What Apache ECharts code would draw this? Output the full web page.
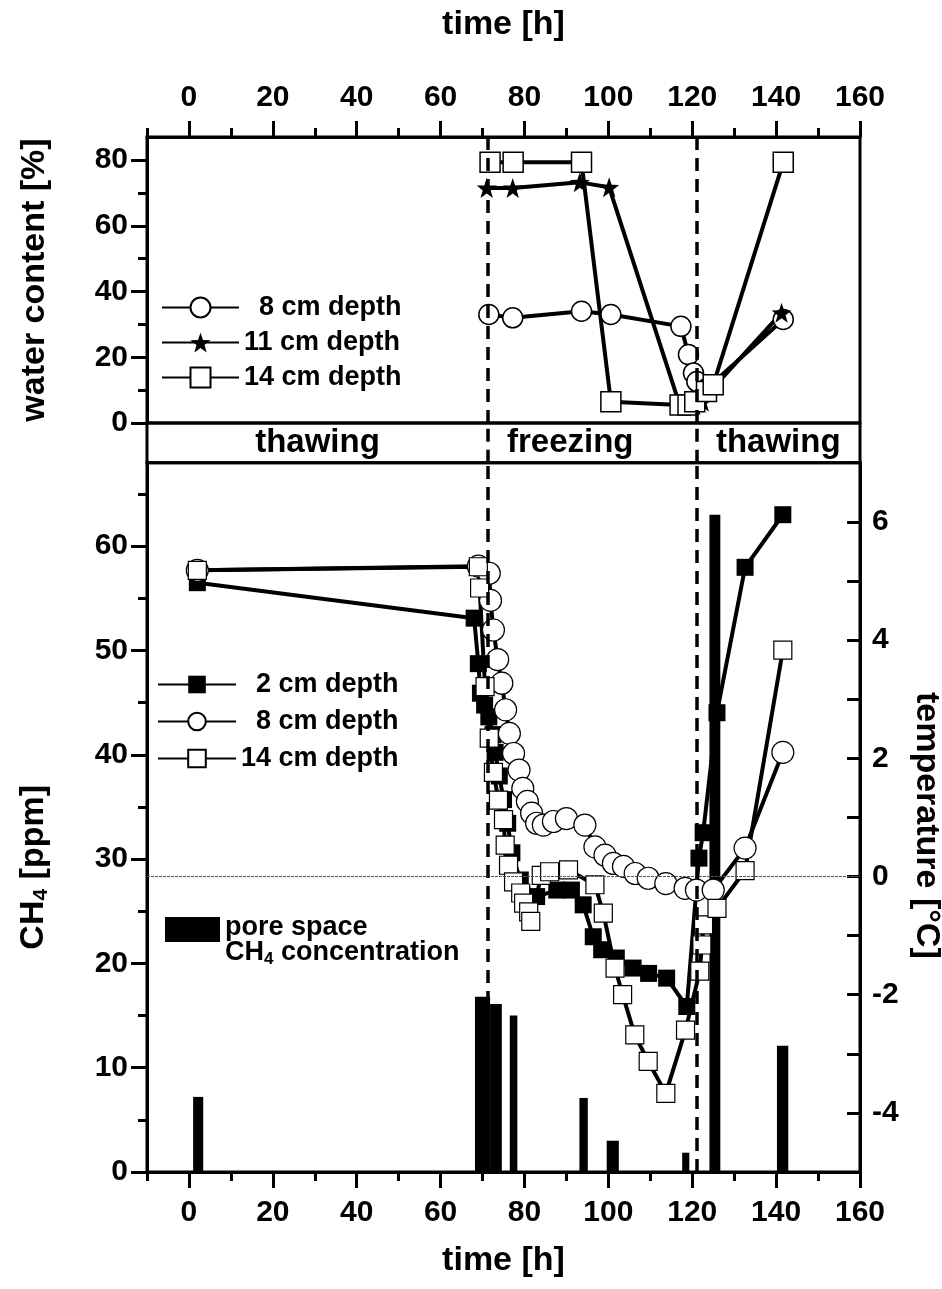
<!DOCTYPE html>
<html><head><meta charset="utf-8">
<script src="https://cdn.jsdelivr.net/npm/echarts@6/dist/echarts.min.js"></script>
<style>html,body{margin:0;padding:0;background:#fff}#c{width:942px;height:1289px}</style>
</head><body><div id="c"></div>
<script>
// ---------- tick labels ----------
const xMajorTicks = [0, 20, 40, 60, 80, 100, 120, 140, 160];
const xMinorTicks = [-10, 10, 30, 50, 70, 90, 110, 130, 150];
const wcMajorTicks = [0, 20, 40, 60, 80];
const wcMinorTicks = [10, 30, 50, 70];
const ch4MajorTicks = [0, 10, 20, 30, 40, 50, 60];
const ch4MinorTicks = [5, 15, 25, 35, 45, 55, 65];
const tempLabelTicks = [-4, -2, 0, 2, 4, 6];

// ---------- phases ----------
const phaseBounds = [-10, 71.3, 121, 160];
const phaseNames = ['thawing', 'freezing', 'thawing'];

// ---------- water content (top panel) ----------
const wcTime8 = [71.5, 77.2, 93.6, 100.6, 117.3, 119.1, 120.3, 121.1, 123.5, 141.7];
const wc8 = [33, 32, 34, 33, 29.4, 20.8, 15.2, 12.6, 10.5, 31.5];
const wcTime11 = [71.0, 77.2, 93.2, 100.2, 117.0, 120.5, 122.5, 124.5, 141.3];
const wc11 = [71.5, 71.5, 73.2, 71.7, 5.5, 5.5, 6.5, 10, 33.5];
const wcTime14 = [71.8, 77.3, 93.6, 100.6, 117.1, 119.0, 120.6, 123.4, 125.0, 141.7];
const wc14 = [79.3, 79.3, 79.3, 6.5, 5.5, 5.5, 6.5, 9.6, 11.6, 79.3];

// ---------- temperature (bottom panel, right axis) ----------
const tTime2 = [2, 68, 69, 69.5, 70.5, 71.5, 72.5, 73, 74, 75, 76, 77, 79, 82.9, 87.7, 91.2, 94, 96.4, 98.4, 101.9, 105.9, 109.6, 113.9, 118.7, 121.6, 122.6, 125.9, 132.6, 141.6];
const temp2 = [4.97, 4.37, 3.6, 3.1, 2.9, 2.7, 2.4, 2.1, 1.7, 1.3, 0.9, 0.4, -0.06, -0.34, -0.23, -0.23, -0.48, -1.02, -1.24, -1.38, -1.55, -1.64, -1.72, -2.2, 0.31, 0.74, 2.77, 5.23, 6.12];
const tTime8 = [2, 69, 71.6, 71.9, 72.6, 73.6, 74.6, 75.5, 76.4, 77.4, 78.7, 79.6, 80.7, 81.7, 82.9, 84.5, 86.9, 90.0, 94.4, 96.8, 99.2, 101.2, 103.6, 106.4, 109.5, 113.7, 118.3, 121.0, 125.0, 132.6, 141.6];
const temp8 = [5.18, 5.25, 5.13, 4.67, 4.17, 3.67, 3.27, 2.82, 2.42, 2.08, 1.80, 1.49, 1.27, 1.07, 0.90, 0.87, 0.93, 0.98, 0.87, 0.50, 0.36, 0.22, 0.17, 0.05, -0.03, -0.12, -0.20, -0.23, -0.23, 0.48, 2.10];
const tTime14 = [2, 69, 69.3, 70.6, 71.6, 72.6, 73.8, 75, 75.4, 76.2, 77.4, 79.1, 79.8, 81, 81.5, 84, 86, 90.5, 96.8, 98.8, 101.6, 103.4, 106.3, 109.5, 113.7, 118.4, 121.8, 122.3, 122.7, 125.9, 132.6, 141.6];
const temp14 = [5.18, 5.24, 4.88, 3.21, 2.34, 1.76, 1.29, 0.96, 0.53, 0.19, -0.09, -0.28, -0.45, -0.60, -0.76, 0.02, 0.08, 0.11, -0.14, -0.62, -1.55, -2.0, -2.68, -3.13, -3.67, -2.60, -1.60, -1.16, -0.82, -0.54, 0.10, 3.83];

// ---------- pore space CH4 bars (start h, end h, ppm) ----------
const barStart = [1.0, 68.2, 71.8, 76.5, 93.1, 99.6, 117.6, 124.1, 140.2];
const barEnd = [3.4, 71.8, 74.6, 78.3, 95.1, 102.5, 119.3, 126.7, 142.9];
const barCH4 = [7.2, 16.8, 16.1, 15.0, 7.1, 3.0, 1.85, 63.0, 12.1];

const zip = (a, b) => a.map((v, i) => [v, b[i]]);
const FONT = '"Liberation Sans", Arial, Helvetica, sans-serif';
const txt = (size) => ({ fontFamily: FONT, fontWeight: 'bold', fontSize: size, color: '#000' });
const STAR = 'path://M0,-10 L2.35,-3.24 L9.51,-3.09 L3.8,1.24 L5.88,8.09 L0,4 L-5.88,8.09 L-3.8,1.24 L-9.51,-3.09 L-2.35,-3.24 Z';

const L = 147, R = 82;
const gridCommon = { left: L, right: R, show: true, borderColor: '#000', borderWidth: 3, backgroundColor: 'transparent', containLabel: false, outerBoundsMode: 'none' };

function majorX(grid, pos, name, gap, margin) {
  return {
    type: 'value', gridIndex: grid, position: pos, min: -10, max: 160,
    axisLine: { show: true, onZero: false, lineStyle: { color: '#000', width: 3 } },
    axisTick: { show: true, customValues: xMajorTicks, length: 16, lineStyle: { color: '#000', width: 3 } },
    axisLabel: { show: true, customValues: xMajorTicks, margin: margin, ...txt(30) },
    splitLine: { show: false },
    name: name, nameLocation: 'middle', nameGap: gap, nameTextStyle: txt(34)
  };
}
function minorX(grid, pos) {
  return {
    type: 'value', gridIndex: grid, position: pos, min: -10, max: 160,
    axisLine: { show: false, onZero: false },
    axisTick: { show: true, customValues: xMinorTicks, length: 9, lineStyle: { color: '#000', width: 3 } },
    axisLabel: { show: false }, splitLine: { show: false }
  };
}
function majorY(grid, max, ticks, name, gap, extraStyle) {
  return {
    type: 'value', gridIndex: grid, position: 'left', min: 0, max: max,
    axisLine: { show: true, onZero: false, lineStyle: { color: '#000', width: 3 } },
    axisTick: { show: true, customValues: ticks, length: 16, lineStyle: { color: '#000', width: 3 } },
    axisLabel: { show: true, customValues: ticks, margin: 19, ...txt(30) },
    splitLine: { show: false },
    name: name, nameLocation: 'middle', nameGap: gap, nameRotate: 90,
    nameTextStyle: Object.assign(txt(34), extraStyle || {})
  };
}
function minorY(grid, max, ticks) {
  return {
    type: 'value', gridIndex: grid, position: 'left', min: 0, max: max,
    axisLine: { show: false, onZero: false },
    axisTick: { show: true, customValues: ticks, length: 9, lineStyle: { color: '#000', width: 3 } },
    axisLabel: { show: false }, splitLine: { show: false }
  };
}

const boundaryLines = phaseBounds.slice(1, 3).map(v => ({ xAxis: v }));
const dashStyle = { color: '#000', width: 3.5, type: [13, 8] };

const option = {
  animation: false,
  backgroundColor: '#fff',
  grid: [
    Object.assign({ top: 137, height: 286 }, gridCommon),
    Object.assign({ top: 423, height: 39.7 }, gridCommon),
    Object.assign({ top: 462.7, height: 709.3 }, gridCommon)
  ],
  xAxis: [
    majorX(0, 'top', 'time [h]', 95, 24),
    minorX(0, 'top'),
    { type: 'value', gridIndex: 1, min: -10, max: 160, show: false },
    majorX(2, 'bottom', 'time [h]', 72, 26),
    minorX(2, 'bottom')
  ],
  yAxis: [
    majorY(0, 87, wcMajorTicks, 'water content [%]', 95),
    minorY(0, 87, wcMinorTicks),
    { type: 'value', gridIndex: 1, min: 0, max: 1, show: false },
    majorY(2, 68, ch4MajorTicks, 'CH{sub|4} [ppm]', 95, {
      padding: [0, 100, 0, 0],
      rich: { sub: { fontFamily: FONT, fontWeight: 'bold', fontSize: 21, color: '#000', padding: [15, 0, 0, 0] } }
    }),
    minorY(2, 68, ch4MinorTicks),
    {
      type: 'value', gridIndex: 2, position: 'right', min: -5, max: 7, interval: 1,
      axisLine: { show: true, onZero: false, lineStyle: { color: '#000', width: 3 } },
      axisTick: { show: true, inside: true, length: 13, lineStyle: { color: '#000', width: 3 } },
      axisLabel: { show: true, customValues: tempLabelTicks, margin: 12, ...txt(30) },
      splitLine: { show: false },
      name: 'temperature [°C]', nameLocation: 'middle', nameGap: 42, nameRotate: -90,
      nameTextStyle: Object.assign(txt(34), { padding: [0, 0, 0, 16] })
    }
  ],
  legend: [
    {
      data: ['8 cm depth', '11 cm depth', '14 cm depth'], orient: 'vertical',
      left: 161, top: 294, itemWidth: 77, itemHeight: 25, itemGap: 8, padding: 0,
      selectedMode: false, textStyle: Object.assign(txt(27), { lineHeight: 27 }),
      formatter: n => (n.length < 11 ? '  ' + n : n)
    },
    {
      data: ['2 cm depth', '8 cm depth', '14 cm depth'], orient: 'vertical',
      left: 157, top: 671, itemWidth: 78, itemHeight: 22, itemGap: 10, padding: 0,
      selectedMode: false, textStyle: Object.assign(txt(27), { lineHeight: 27 }),
      formatter: n => (n.length < 11 ? '  ' + n : n)
    },
    {
      data: [{ name: 'pore space CH4', icon: 'rect' }], left: 165, top: 893.5,
      itemWidth: 55, itemHeight: 25, padding: 0, selectedMode: false,
      formatter: () => 'pore space\n{n|CH}{s|4}{n| concentration}',
      textStyle: Object.assign(txt(27), {
        lineHeight: 25, padding: [22, 0, 0, 0],
        rich: {
          n: Object.assign(txt(27), { lineHeight: 25 }),
          s: Object.assign(txt(17), { lineHeight: 25, padding: [12, 0, 0, 0] })
        }
      })
    }
  ],
  series: [
    // ----- top panel -----
    {
      name: '8 cm depth', type: 'line', xAxisIndex: 0, yAxisIndex: 0, data: zip(wcTime8, wc8),
      symbol: 'circle', symbolSize: 20, lineStyle: { color: '#000', width: 4 },
      itemStyle: { color: '#fff', borderColor: '#000', borderWidth: 1.5 },
      markLine: { silent: true, symbol: ['none', 'none'], label: { show: false }, lineStyle: dashStyle, data: boundaryLines }
    },
    {
      name: '11 cm depth', type: 'line', xAxisIndex: 0, yAxisIndex: 0, data: zip(wcTime11, wc11),
      symbol: STAR, symbolSize: 20, lineStyle: { color: '#000', width: 4 },
      itemStyle: { color: '#000', borderColor: '#000', borderWidth: 0 }
    },
    {
      name: '14 cm depth', type: 'line', xAxisIndex: 0, yAxisIndex: 0, data: zip(wcTime14, wc14),
      symbol: 'rect', symbolSize: 20, lineStyle: { color: '#000', width: 4 },
      itemStyle: { color: '#fff', borderColor: '#000', borderWidth: 1.5 }
    },
    // ----- phase band -----
    {
      name: 'phases', type: 'line', xAxisIndex: 2, yAxisIndex: 2, data: [],
      markLine: { silent: true, symbol: ['none', 'none'], label: { show: false }, lineStyle: dashStyle, data: boundaryLines },
      markArea: {
        silent: true, itemStyle: { color: 'rgba(0,0,0,0)' },
        label: Object.assign({ show: true, position: 'inside' }, txt(33)),
        data: phaseNames.map((n, i) => [
          { name: n, xAxis: phaseBounds[i], label: i === 1 ? { offset: [-22, 0] } : {} },
          { xAxis: phaseBounds[i + 1] }
        ])
      }
    },
    // ----- bottom panel -----
    {
      name: 'pore space CH4', type: 'custom', xAxisIndex: 3, yAxisIndex: 3,
      itemStyle: { color: '#000' },
      data: barStart.map((s, i) => [s, barEnd[i], barCH4[i]]),
      encode: { x: [0, 1], y: 2 },
      renderItem: (params, api) => {
        const p0 = api.coord([api.value(0), api.value(2)]);
        const p1 = api.coord([api.value(1), 0]);
        return { type: 'rect', shape: { x: p0[0], y: p0[1], width: p1[0] - p0[0], height: p1[1] - p0[1] }, style: { fill: '#000' } };
      }
    },
    {
      name: '2 cm depth', type: 'line', xAxisIndex: 3, yAxisIndex: 5, data: zip(tTime2, temp2),
      symbol: 'rect', symbolSize: 17, lineStyle: { color: '#000', width: 4 },
      itemStyle: { color: '#000', borderColor: '#000', borderWidth: 0 },
      markLine: {
        silent: true, symbol: ['none', 'none'], label: { show: false },
        data: [
          { yAxis: 0, lineStyle: { color: '#555', width: 1, type: [3, 1] } },
          ...boundaryLines.map(b => Object.assign({ lineStyle: dashStyle }, b))
        ]
      }
    },
    {
      name: '8 cm depth', type: 'line', xAxisIndex: 3, yAxisIndex: 5, data: zip(tTime8, temp8),
      symbol: 'circle', symbolSize: 22, lineStyle: { color: '#000', width: 4 },
      itemStyle: { color: '#fff', borderColor: '#000', borderWidth: 1.2 }
    },
    {
      name: '14 cm depth', type: 'line', xAxisIndex: 3, yAxisIndex: 5, data: zip(tTime14, temp14),
      symbol: 'rect', symbolSize: 18, lineStyle: { color: '#000', width: 4 },
      itemStyle: { color: '#fff', borderColor: '#000', borderWidth: 1.2 }
    }
  ]
};

const chart = echarts.init(document.getElementById('c'), null, { renderer: 'canvas' });
chart.setOption(option);
</script>
</body></html>
